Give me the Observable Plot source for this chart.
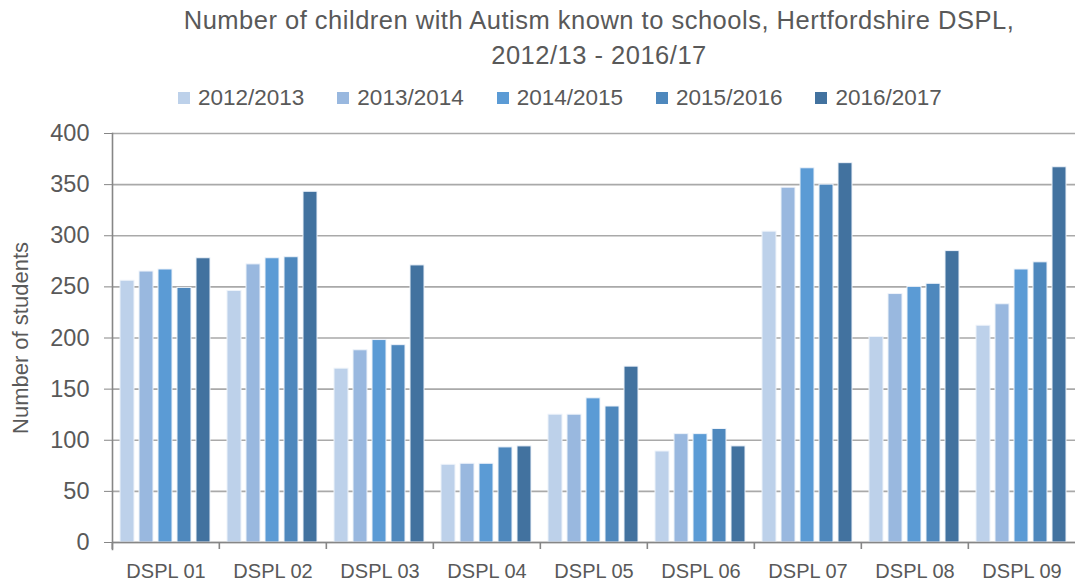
<!DOCTYPE html>
<html><head><meta charset="utf-8">
<script src="https://cdn.jsdelivr.net/npm/d3@7"></script>
<script src="https://cdn.jsdelivr.net/npm/@observablehq/plot@0.6"></script>
<style>
body{margin:0;background:#fff;font-family:"Liberation Sans",Arial,sans-serif;color:#595959;width:1076px;height:586px;overflow:hidden;position:relative}
#title{position:absolute;left:0;width:1198px;top:3px;text-align:center;font-size:25.5px;letter-spacing:0.5px;line-height:35px}
#legend{position:absolute;left:178px;top:84px;display:flex;gap:33px;font-size:22.5px;line-height:28px}
#legend .item{display:flex;align-items:center}
#legend .sw{width:12px;height:12px;margin-right:8px;display:inline-block}
#chart{position:absolute;left:0;top:113px}
</style></head>
<body>
<div id="title">Number of children with Autism known to schools, Hertfordshire DSPL,<br>2012/13 - 2016/17</div>
<div id="legend"></div>
<div id="chart"></div>
<script>
const districts = ["DSPL 01","DSPL 02","DSPL 03","DSPL 04","DSPL 05","DSPL 06","DSPL 07","DSPL 08","DSPL 09"];
const years = ["2012/2013","2013/2014","2014/2015","2015/2016","2016/2017"];
const v2012 = [256,246,170,76,125,89,304,201,212];
const v2013 = [265,272,188,77,125,106,347,243,233];
const v2014 = [267,278,198,77,141,106,366,250,267];
const v2015 = [249,279,193,93,133,111,350,253,274];
const v2016 = [278,343,271,94,172,94,371,285,367];
const yTicks = [0,50,100,150,200,250,300,350,400];
const colors = ["#bdd1ea","#99b8df","#5b9bd5","#4e88bd","#42729f"];
const yLabel = "Number of students";

const series = [v2012,v2013,v2014,v2015,v2016];
const data = [];
series.forEach((vals, si) => vals.forEach((v, di) => data.push({district: districts[di], year: years[si], value: v})));

const legend = document.getElementById("legend");
years.forEach((y, i) => {
  const it = document.createElement("div"); it.className = "item";
  const sw = document.createElement("span"); sw.className = "sw"; sw.style.background = colors[i];
  it.appendChild(sw); it.appendChild(document.createTextNode(y));
  legend.appendChild(it);
});

const W = 1076, H = 473, mL = 110, mR = 0, mT = 20, mB = 44;
const bw = (W - mL - mR) / districts.length;
const axisColor = "#868686";
const chart = Plot.plot({
  width: W, height: H, marginLeft: mL, marginRight: mR, marginTop: mT, marginBottom: mB,
  style: {fontFamily: '"Liberation Sans",Arial,sans-serif', fontSize: "20px", color: "#595959", background: "white", overflow: "visible"},
  fx: {domain: districts, padding: 0, label: null, axis: null},
  x: {domain: years, paddingInner: 0.24, paddingOuter: 0.33, axis: null},
  y: {domain: [0, 400], label: null, axis: null},
  color: {domain: years, range: colors},
  marks: [
    Plot.gridY(yTicks, {stroke: "#a9a9a9", strokeOpacity: 1, strokeWidth: 1.6}),
    Plot.barY(data, {fx: "district", x: "year", y: "value", fill: "year", stroke: "#eef3fa", strokeWidth: 1}),
    Plot.ruleY([0], {stroke: axisColor, strokeWidth: 1.6}),
    Plot.frame({anchor: "left", facetAnchor: "left", stroke: axisColor, strokeWidth: 1.6, insetBottom: -7}),
    Plot.axisY(yTicks, {anchor: "left", tickSize: 8, tickPadding: 15, stroke: axisColor, fill: "#595959", fontSize: 23.5, label: yLabel, labelAnchor: "center", labelArrow: "none", labelOffset: 100}),
    Plot.axisFx({anchor: "bottom", tickSize: 0, tickPadding: 21, fontSize: 20, fill: "#595959", label: null}),
    Plot.axisFx({anchor: "bottom", tickSize: 7, text: null, stroke: axisColor, strokeWidth: 1.6, dx: -bw / 2, label: null})
  ]
});
const lbl = chart.querySelector('[aria-label="y-axis label"] text');
if (lbl) lbl.style.fontSize = "22px";
document.getElementById("chart").appendChild(chart);
</script>
</body></html>
